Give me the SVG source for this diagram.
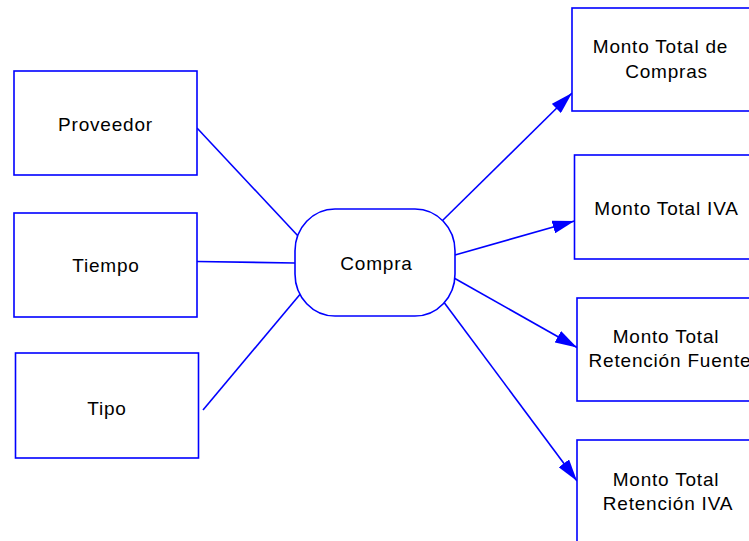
<svg xmlns="http://www.w3.org/2000/svg" width="749" height="541" viewBox="0 0 749 541">
  <style>
    .box { fill: #ffffff; stroke: #0000ff; stroke-width: 1.6; }
    .lbl { font-family: "Liberation Sans", Arial, sans-serif; font-size: 19px; letter-spacing: 0.8px; fill: #000000; text-anchor: middle; }
    .link { stroke: #0000ff; stroke-width: 1.6; fill: none; }
    .arrow { stroke: #0000ff; stroke-width: 1.6; fill: none; marker-end: url(#head); }
  </style>
  <defs>
    <marker id="head" viewBox="0 0 22 13" refX="22" refY="6.5" markerWidth="22" markerHeight="13" markerUnits="userSpaceOnUse" orient="auto">
      <path d="M0,0 L22,6.5 L0,13 Z" fill="#0000ff"/>
    </marker>
  </defs>
  <rect width="749" height="541" fill="#ffffff"/>

  <g id="connectors">
    <line class="link" x1="197" y1="128" x2="299" y2="237"/>
    <line class="link" x1="197" y1="261.5" x2="295" y2="263"/>
    <line class="link" x1="203" y1="410" x2="302" y2="292"/>
    <line class="arrow" x1="441" y1="222" x2="572" y2="93"/>
    <line class="arrow" x1="455" y1="255" x2="574.5" y2="221"/>
    <line class="arrow" x1="454" y1="278" x2="577" y2="347.5"/>
    <line class="arrow" x1="443" y1="301" x2="577" y2="481"/>
  </g>

  <g id="proveedor">
    <rect class="box" x="14" y="71" width="183" height="104"/>
    <text class="lbl" x="105.5" y="131">Proveedor</text>
  </g>
  <g id="tiempo">
    <rect class="box" x="14" y="213" width="183" height="104"/>
    <text class="lbl" x="106" y="272">Tiempo</text>
  </g>
  <g id="tipo">
    <rect class="box" x="15.5" y="353" width="183" height="105"/>
    <text class="lbl" x="107" y="415">Tipo</text>
  </g>

  <g id="compra">
    <rect class="box" x="295" y="209" width="160" height="107" rx="40" ry="42"/>
    <text class="lbl" x="376.5" y="270">Compra</text>
  </g>

  <g id="monto-total-compras">
    <rect class="box" x="572" y="8" width="183" height="103"/>
    <text class="lbl" x="660.5" y="53">Monto Total de</text>
    <text class="lbl" x="666.5" y="77.5">Compras</text>
  </g>
  <g id="monto-total-iva">
    <rect class="box" x="574.5" y="155" width="183" height="104"/>
    <text class="lbl" x="666.5" y="215">Monto Total IVA</text>
  </g>
  <g id="monto-total-retencion-fuente">
    <rect class="box" x="577" y="298" width="183" height="103"/>
    <text class="lbl" x="666" y="343">Monto Total</text>
    <text class="lbl" x="670" y="367">Retención Fuente</text>
  </g>
  <g id="monto-total-retencion-iva">
    <rect class="box" x="577" y="440" width="183" height="110"/>
    <text class="lbl" x="666" y="486">Monto Total</text>
    <text class="lbl" x="668" y="509.5">Retención IVA</text>
  </g>
</svg>
